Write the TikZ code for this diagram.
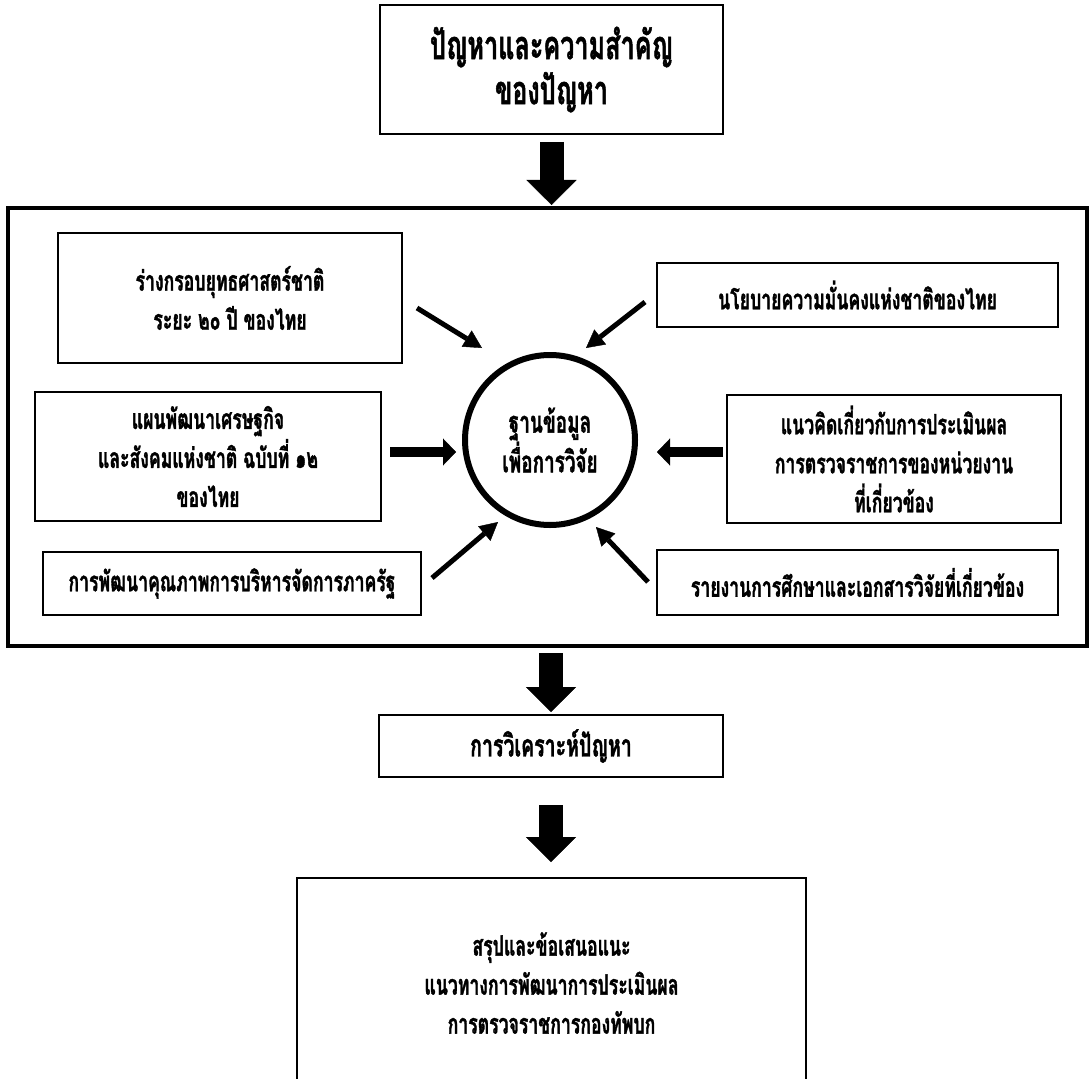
\documentclass[tikz,border=0pt]{standalone}
\usepackage{fontspec}
\usetikzlibrary{arrows.meta,shapes.geometric}
\newfontfamily\thaifont[Script=Thai,FakeStretch=0.63,BoldFeatures={FakeBold=1.2}]{Loma}
\tikzset{
  box/.style={draw,line width=1.5pt,rectangle,outer sep=0pt,inner sep=0pt,align=center,
    font=\thaifont\bfseries\fontsize{28}{39}\selectfont},
  bigbox/.style={draw,line width=4.5pt,rectangle,outer sep=0pt,inner sep=0pt},
  hub/.style={draw,line width=6pt,circle,outer sep=0pt,inner sep=0pt,minimum size=170pt,align=center,
    font=\thaifont\bfseries\fontsize{30}{38}\selectfont},
  blockarrow/.style={line width=24pt,-{Triangle[width=50pt,length=25pt,line width=0.4pt]}},
  thinarrow/.style={line width=5pt,-{Triangle[width=19pt,length=18pt,line width=0.4pt]}},
  midarrow/.style={line width=10pt,-{Triangle[width=27pt,length=13pt,line width=0.4pt]}}
}
\begin{document}
\begin{tikzpicture}[x=1pt,y=-1pt]
\useasboundingbox (0,0) rectangle (1091,1078);
% boxes
\node[box,line width=2pt,minimum width=343pt,minimum height=129pt,
  font=\thaifont\bfseries\fontsize{40}{45}\selectfont] (top) at (551.5,69.5) {ปัญหาและความสำคัญ\\ของปัญหา};
\node[bigbox,minimum width=1079pt,minimum height=438pt] (big) at (547.5,427) {};
\node[box,minimum width=344pt,minimum height=130pt] (A) at (230,298) {ร่างกรอบยุทธศาสตร์ชาติ\\ระยะ ๒๐ ปี ของไทย};
\node[box,minimum width=346pt,minimum height=129pt] (B) at (208,456.5) {แผนพัฒนาเศรษฐกิจ\\และสังคมแห่งชาติ ฉบับที่ ๑๒\\ของไทย};
\node[box,minimum width=378pt,minimum height=63pt] (C) at (232,583.5) {การพัฒนาคุณภาพการบริหารจัดการภาครัฐ};
\node[box,minimum width=401pt,minimum height=64pt] (D) at (857.5,295) {นโยบายความมั่นคงแห่งชาติของไทย};
\node[box,minimum width=334pt,minimum height=128pt] (E) at (894,459) {แนวคิดเกี่ยวกับการประเมินผล\\การตรวจราชการของหน่วยงาน\\ที่เกี่ยวข้อง};
\node[box,minimum width=401pt,minimum height=65pt] (F) at (857.5,582.5) {รายงานการศึกษาและเอกสารวิจัยที่เกี่ยวข้อง};
\node[hub] (db) at (550,440) {ฐานข้อมูล\\เพื่อการวิจัย};
\node[box,minimum width=344pt,minimum height=62pt,
  font=\thaifont\bfseries\fontsize{31}{39}\selectfont] (G) at (551,746) {การวิเคราะห์ปัญหา};
\node[box,minimum width=509pt,minimum height=210pt] (H) at (551.5,983) {สรุปและข้อเสนอแนะ\\แนวทางการพัฒนาการประเมินผล\\การตรวจราชการกองทัพบก};
% free ends of the arrows round the hub
\coordinate (a1s) at (417,308); \coordinate (a1e) at (482,348);
\coordinate (a2s) at (645,302); \coordinate (a2e) at (586,348);
\coordinate (a3s) at (390,452); \coordinate (a3e) at (456,452);
\coordinate (a4s) at (723,452); \coordinate (a4e) at (657,452);
\coordinate (a5s) at (432,578); \coordinate (a5e) at (498,522);
\coordinate (a6s) at (648,582); \coordinate (a6e) at (596,527);
\draw[thinarrow] (a1s) -- (a1e);
\draw[thinarrow] (a2s) -- (a2e);
\draw[midarrow] (a3s) -- (a3e);
\draw[midarrow] (a4s) -- (a4e);
\draw[thinarrow] (a5s) -- (a5e);
\draw[thinarrow] (a6s) -- (a6e);
% block arrows
\draw[blockarrow,shorten <=8pt,shorten >=3pt] (top.south) -- (top.south |- big.north);
\draw[blockarrow,shorten <=7pt,shorten >=3pt] (G.north |- big.south) -- (G.north);
\draw[blockarrow,shorten <=28pt,shorten >=16pt] (G.south) -- (G.south |- H.north);
\end{tikzpicture}
\end{document}
